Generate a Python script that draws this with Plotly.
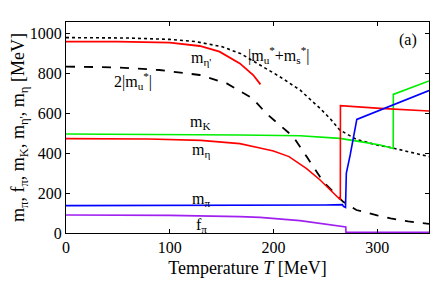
import plotly.graph_objects as go

# ---- data ----
T_etap = [0, 50, 100, 129, 148, 167.6, 180.5, 187.5]
m_etap = [957, 957, 952, 935, 907, 848, 790, 743]

T_dot = [0, 60, 100, 125, 150, 168, 187, 206, 225.6, 245, 255, 264, 280, 300, 315, 335, 350]
m_dot = [977, 975, 968, 957, 932, 898, 840, 782, 715, 623, 570, 515, 468, 440, 425, 402, 382]

T_dash = [0, 50, 90, 129, 155, 180, 193, 200, 219, 232, 248, 267, 280, 300, 313, 330, 350]
m_dash = [832, 828, 815, 790, 748, 673, 598, 567, 482, 382, 257, 157, 115, 88, 73, 58, 46]

T_K = [0, 100, 167.6, 225.6, 264, 283.6, 303, 315.5, 315.6, 350]
m_K = [495, 494, 490, 486, 473, 457, 440, 423, 693, 760]

T_eta = [0, 80, 130, 167.6, 187, 200, 215, 225, 232, 245, 255, 264.5, 264.6, 303, 350]
m_eta = [472, 470, 463, 447, 425, 410, 382, 345, 322, 265, 215, 166, 637, 623, 610]

T_pi = [0, 100, 200, 250, 266.5, 267.5, 269.5, 270.3, 274, 277, 280.4, 350]
m_pi = [137, 137, 138, 140, 142, 133, 128, 300, 390, 480, 568, 712]

T_fpi = [0, 100, 167.6, 187, 225.6, 232, 267.4, 269.8, 269.9, 350]
f_pi = [90, 88, 82, 78, 62, 57, 32, 30, 3, 3]

labels = ["m<sub>η'</sub>", "2|m<sub>u</sub><sup>*</sup>|", "|m<sub>u</sub><sup>*</sup>+m<sub>s</sub><sup>*</sup>|",
          "m<sub>K</sub>", "m<sub>η</sub>", "m<sub>π</sub>", "f<sub>π</sub>", "(a)"]
label_T = [130, 65, 205, 130, 130, 130, 131, 330]
label_v = [875, 762, 888, 555, 415, 170, 40, 965]

x_ticks = [0, 100, 200, 300]
y_ticks = [0, 200, 400, 600, 800, 1000]

FONT = "Liberation Serif"

fig = go.Figure()
series = [
    (T_dot, m_dot, "black", "dot", 1.6),
    (T_dash, m_dash, "black", "dash", 1.8),
    (T_etap, m_etap, "#ff0000", "solid", 1.8),
    (T_K, m_K, "#00ee00", "solid", 1.6),
    (T_eta, m_eta, "#ff0000", "solid", 1.6),
    (T_pi, m_pi, "#0000ff", "solid", 1.6),
    (T_fpi, f_pi, "#a020f0", "solid", 1.6),
]
for xs, ys, c, d, w in series:
    fig.add_trace(go.Scatter(x=xs, y=ys, mode="lines",
                             line=dict(color=c, dash=d, width=w),
                             showlegend=False, hoverinfo="skip"))

for txt, tx, ty in zip(labels, label_T, label_v):
    fig.add_annotation(x=tx, y=ty, xref="x", yref="y", text=txt, showarrow=False,
                       font=dict(family=FONT, size=16, color="black"))

axis_common = dict(showline=True, linecolor="black", linewidth=1, mirror="ticks",
                   ticks="inside", ticklen=4, tickcolor="black", showgrid=False,
                   zeroline=False, automargin=False,
                   tickfont=dict(family=FONT, size=16, color="black"))

fig.update_xaxes(range=[0, 350], tickvals=x_ticks,
                 title=dict(text="Temperature <i>T</i> [MeV]", font=dict(family=FONT, size=18, color="black"), standoff=6),
                 **axis_common)
fig.update_yaxes(range=[0, 1055], tickvals=y_ticks,
                 title=dict(text="m<sub>π</sub>, f<sub>π</sub>, m<sub>K</sub>, m<sub>η'</sub>, m<sub>η</sub> [MeV]",
                            font=dict(family=FONT, size=18, color="black"), standoff=4),
                 **axis_common)

# page body has an 8px default margin: figure is sized/offset to compensate
fig.update_layout(width=435, height=275, margin=dict(l=58, r=14, t=14, b=50),
                  plot_bgcolor="white", paper_bgcolor="white",
                  font=dict(family=FONT, color="black"))

fig.write_html("out.html")
